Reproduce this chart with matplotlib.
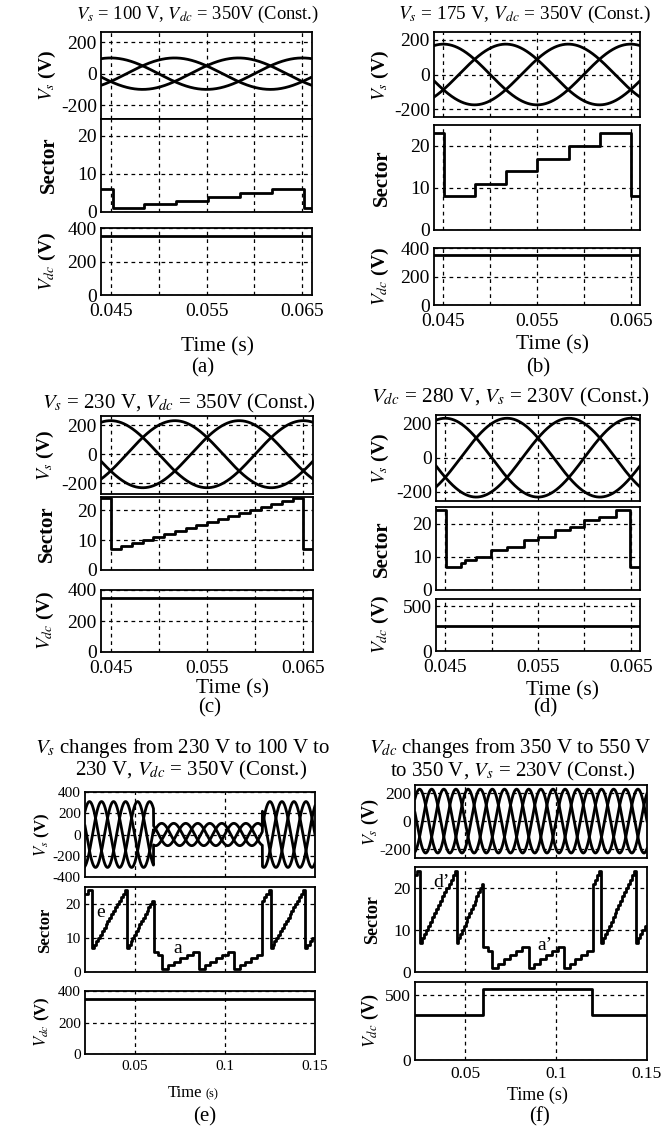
import numpy as np
import matplotlib
matplotlib.use('Agg')
import matplotlib.pyplot as plt

plt.rcParams['font.family'] = 'Liberation Serif'
plt.rcParams['mathtext.fontset'] = 'stix'
plt.rcParams['axes.unicode_minus'] = False

# ---------------- data ----------------
f_supply = 50.0                      # Hz, grid frequency of the three phase set

vs_amp_a = 100
vs_amp_b = 175
vs_amp_c = 230
vs_amp_d = 230
vs_amp_f = 230
vs_e_switch = [0.0605, 0.1208]       # times where Vs amplitude changes in (e)
vs_e_amp = [310, 105, 310]

vdc_a = 350
vdc_b = 350
vdc_c = 350
vdc_d = 280
vdc_e = 350
vdc_f_edges = [0.0225, 0.06, 0.12, 0.15]
vdc_f_levels = [350, 550, 350]

# sector traces: (t_start, t_end, levels held in equal slices of that interval)
sector_a = [(0.044, 0.0452, [6]),
            (0.0452, 0.0652, [1, 2, 3, 4, 5, 6]),
            (0.0652, 0.066, [1])]
sector_b = [(0.044, 0.0451, [23]),
            (0.0451, 0.065, [8, 11, 14, 17, 20, 23]),
            (0.065, 0.066, [8])]
sector_c = [(0.044, 0.045, [24]),
            (0.045, 0.065, [7, 8, 9, 10, 11, 12, 13, 14, 15, 16, 17, 18, 19, 20, 21, 22, 23, 24]),
            (0.065, 0.066, [7])]
sector_d_edges = [0.044, 0.0451, 0.0467, 0.0471, 0.0483, 0.0499, 0.0517, 0.0535, 0.0550,
                  0.0568, 0.0584, 0.0600, 0.0616, 0.0634, 0.0649, 0.066]
sector_d_levels = [24, 7, 8, 9, 10, 12, 13, 15, 16, 18, 19, 21, 22, 24, 7]
sector_e = [(0.0225, 0.0263, [23, 24]),
            (0.0263, 0.0458, [7, 8, 9, 10, 11, 12, 13, 14, 15, 16, 17, 18, 19, 20, 21, 22, 23, 24]),
            (0.0458, 0.0606, [7, 8, 9, 10, 11, 12, 13, 14, 15, 16, 17, 18, 19, 20, 21]),
            (0.0606, 0.0652, [6, 5]),
            (0.0652, 0.0856, [1, 2, 3, 4, 5, 6]),
            (0.0856, 0.1050, [1, 2, 3, 4, 5, 6]),
            (0.1050, 0.1208, [1, 2, 3, 4, 5]),
            (0.1208, 0.1254, [21, 22, 23, 24]),
            (0.1254, 0.1443, [7, 8, 9, 10, 11, 12, 13, 14, 15, 16, 17, 18, 19, 20, 21, 22, 23, 24]),
            (0.1443, 0.15, [7, 8, 9, 10])]
sector_f = [(0.0225, 0.0252, [23, 24]),
            (0.0252, 0.0454, [7, 8, 9, 10, 11, 12, 13, 14, 15, 16, 17, 18, 19, 20, 21, 22, 23, 24]),
            (0.0454, 0.0601, [7, 8, 9, 10, 11, 12, 13, 14, 15, 16, 17, 18, 19, 20, 21]),
            (0.0601, 0.0647, [6, 5]),
            (0.0647, 0.0849, [1, 2, 3, 4, 5, 6]),
            (0.0849, 0.1042, [1, 2, 3, 4, 5, 6]),
            (0.1042, 0.1204, [1, 2, 3, 4, 5]),
            (0.1204, 0.1248, [21, 22, 23, 24]),
            (0.1248, 0.1437, [7, 8, 9, 10, 11, 12, 13, 14, 15, 16, 17, 18, 19, 20, 21, 22, 23, 24]),
            (0.1437, 0.15, [7, 8, 9, 10, 11])]

titles_a = ['$V_s$ = 100 V, $V_{dc}$ = 350V (Const.)']
titles_b = ['$V_s$ = 175 V, $V_{dc}$ = 350V (Const.)']
titles_c = ['$V_s$ = 230 V, $V_{dc}$ = 350V (Const.)']
titles_d = ['$V_{dc}$ = 280 V, $V_s$ = 230V (Const.)']
titles_e = ['$V_s$ changes from 230 V to 100 V to', '230 V, $V_{dc}$ = 350V (Const.)']
titles_f = ['$V_{dc}$ changes from 350 V to 550 V', 'to 350 V, $V_s$ = 230V (Const.)']

# ---------------- helpers ----------------
W, H = 670, 1133
fig = plt.figure(figsize=(W / 100, H / 100), dpi=100)


def px_axes(l, t, r, b):
    return fig.add_axes([l / W, 1 - b / H, (r - l) / W, (b - t) / H])


def ftext(x, y, s, **kw):
    fig.text(x / W, 1 - y / H, s, ha='center', va='center', **kw)


def teeth_to_steps(teeth):
    edges, levels = [], []
    for t0, t1, lv in teeth:
        e = np.linspace(t0, t1, len(lv) + 1)
        edges += list(e[:-1])
        levels += lv
    edges.append(teeth[-1][1])
    return edges, levels


def steps_xy(edges, levels):
    x, y = [], []
    for k, lv in enumerate(levels):
        x += [edges[k], edges[k + 1]]
        y += [lv, lv]
    return x, y


def style(ax, fs, xpad):
    ax.grid(True, color='k', ls=(0, (3, 3)), lw=0.9)
    ax.set_axisbelow(True)
    ax.tick_params(length=0, pad=3, labelsize=fs)
    ax.tick_params(axis='x', pad=xpad)
    for s in ax.spines.values():
        s.set_linewidth(1.3)


def three_phase(ax, t, amp):
    w = 2 * np.pi * f_supply * t
    for ph in (0, -2 * np.pi / 3, 2 * np.pi / 3):
        ax.plot(t, amp * np.sin(w + ph), color='k', lw=2)


def draw_panel(box, xlim, xticks, xlabels, amp, vs_ylim, vs_ticks, sec_edges, sec_levels,
               sec_ylim, vdc_edges, vdc_levels, vdc_ylim, vdc_ticks, fs, xpad=4):
    l, r, vs_tb, sec_tb, vdc_tb = box
    t = np.linspace(xlim[0], xlim[1], 3000)
    ax1 = px_axes(l, vs_tb[0], r, vs_tb[1])
    ax2 = px_axes(l, sec_tb[0], r, sec_tb[1])
    ax3 = px_axes(l, vdc_tb[0], r, vdc_tb[1])

    three_phase(ax1, t, amp(t))
    ax1.set_ylim(vs_ylim)
    ax1.set_yticks(vs_ticks)
    ax1.set_yticklabels([str(v) for v in vs_ticks])

    sx, sy = steps_xy(sec_edges, sec_levels)
    ax2.plot(sx, sy, color='k', lw=2)
    ax2.set_ylim(sec_ylim)
    ax2.set_yticks([0, 10, 20])

    vx, vy = steps_xy(vdc_edges, vdc_levels)
    ax3.plot(vx, vy, color='k', lw=2)
    ax3.set_ylim(vdc_ylim)
    ax3.set_yticks(vdc_ticks)

    for ax in (ax1, ax2, ax3):
        ax.set_xlim(xlim)
        ax.set_xticks(xticks)
        ax.set_xticklabels([])
        style(ax, fs, xpad)
    ax3.set_xticklabels(xlabels)
    return ax1, ax2, ax3


xt_short = [0.045, 0.05, 0.055, 0.06, 0.065]
xl_short = ['0.045', '', '0.055', '', '0.065']
xt_long = [0.05, 0.1, 0.15]
xl_long = ['0.05', '0.1', '0.15']
lim_short = (0.044, 0.066)
lim_long = (0.0225, 0.15)

# (a)
ea, la = teeth_to_steps(sector_a)
draw_panel((101, 312, (32, 118.5), (118.5, 212), (228, 295)), lim_short, xt_short, xl_short,
           lambda t: vs_amp_a, (-285, 265), [-200, 0, 200], ea, la, (0, 24.6),
           list(lim_short), [vdc_a], (0, 400), [0, 200, 400], 14, xpad=6)
# (b)
eb, lb = teeth_to_steps(sector_b)
draw_panel((434, 640, (32, 117), (125, 230), (248, 305)), lim_short, xt_short, xl_short,
           lambda t: vs_amp_b, (-245, 245), [-200, 0, 200], eb, lb, (0, 25),
           list(lim_short), [vdc_b], (0, 400), [0, 200, 400], 14, xpad=6)
# (c)
ec, lc = teeth_to_steps(sector_c)
draw_panel((101, 313, (416, 494), (497, 570), (590, 652)), lim_short, xt_short, xl_short,
           lambda t: vs_amp_c, (-273, 262), [-200, 0, 200], ec, lc, (0, 24.5),
           list(lim_short), [vdc_c], (0, 400), [0, 200, 400], 14, xpad=6)
# (d)
draw_panel((436, 640, (415, 501), (507, 590), (599, 651)), lim_short, xt_short, xl_short,
           lambda t: vs_amp_d, (-253, 249), [-200, 0, 200], sector_d_edges, sector_d_levels, (0, 25),
           list(lim_short), [vdc_d], (0, 580), [0, 500], 14, xpad=6)
# (e)
ee, le = teeth_to_steps(sector_e)
ax_e = draw_panel((85, 315, (792, 877), (887, 972), (991, 1054)), lim_long, xt_long, xl_long,
                  lambda t: np.select([t < vs_e_switch[0], t < vs_e_switch[1]], vs_e_amp[:2], vs_e_amp[2]),
                  (-400, 400), [-400, -200, 0, 200, 400], ee, le, (0, 25),
                  list(lim_long), [vdc_e], (0, 400), [0, 200, 400], 11)
ax_e[1].text(0.0313, 17.6, 'e', ha='center', va='center', fontsize=14)
ax_e[1].text(0.0741, 6.9, 'a', ha='center', va='center', fontsize=14)
# (f)
ef, lf = teeth_to_steps(sector_f)
ax_f = draw_panel((415, 647, (785, 858), (867, 972), (982, 1060)), lim_long, xt_long, xl_long,
                  lambda t: vs_amp_f, (-266, 260), [-200, 0, 200], ef, lf, (0, 25),
                  vdc_f_edges, vdc_f_levels, (0, 600), [0, 500], 12.5)
ax_f[1].text(0.0372, 21.4, 'd\u2019', ha='center', va='center', fontsize=14)
ax_f[1].text(0.0941, 6.3, 'a\u2019', ha='center', va='center', fontsize=14)

# titles
ftext(197, 14, titles_a[0], fontsize=13.3)
ftext(524, 14, titles_b[0], fontsize=13.9)
ftext(179, 403, titles_c[0], fontsize=15)
ftext(510, 397, titles_d[0], fontsize=15.3)
ftext(183, 748, titles_e[0], fontsize=15)
ftext(191, 770, titles_e[1], fontsize=15)
ftext(510, 748, titles_f[0], fontsize=15)
ftext(513, 771, titles_f[1], fontsize=15)

# y labels
for x, ys, fs in [(47, (75, 165, 262), 14), (380, (75, 178, 277), 14),
                  (45, (455, 534, 621), 14), (380, (458, 549, 625), 14)]:
    ftext(x, ys[0], '$V_s$ (V)', fontsize=fs, rotation=90, weight='bold')
    ftext(x + 2, ys[1], 'Sector', fontsize=fs + 1, rotation=90, weight='bold')
    ftext(x, ys[2], '$V_{dc}$ (V)', fontsize=fs, rotation=90, weight='bold')
for x, ys, fs in [(42, (835, 930, 1022), 12), (370, (822, 920, 1021), 13)]:
    ftext(x, ys[0], '$V_s$ (V)', fontsize=fs, rotation=90, weight='bold')
    ftext(x + 3, ys[1], 'Sector', fontsize=fs, rotation=90, weight='bold')
    ftext(x, ys[2], '$V_{dc}$ (V)', fontsize=fs, rotation=90, weight='bold')

# x labels and panel letters
ftext(218, 347, 'Time (s)', fontsize=15.5)
ftext(553, 345, 'Time (s)', fontsize=15.5)
ftext(233, 689, 'Time (s)', fontsize=15.5)
ftext(562, 691, 'Time (s)', fontsize=15.5)
fig.text(202 / W, 1 - 1093 / H, 'Time', ha='right', va='center', fontsize=12)
fig.text(205 / W, 1 - 1094 / H, '(s)', ha='left', va='center', fontsize=9)
ftext(537, 1095, 'Time (s)', fontsize=13)

ftext(203, 368, '(a)', fontsize=15)
ftext(538, 368, '(b)', fontsize=15)
ftext(210, 708, '(c)', fontsize=15)
ftext(545, 708, '(d)', fontsize=15)
ftext(205, 1117, '(e)', fontsize=15)
ftext(540, 1117, '(f)', fontsize=15)

fig.savefig('out.png', dpi=100)
